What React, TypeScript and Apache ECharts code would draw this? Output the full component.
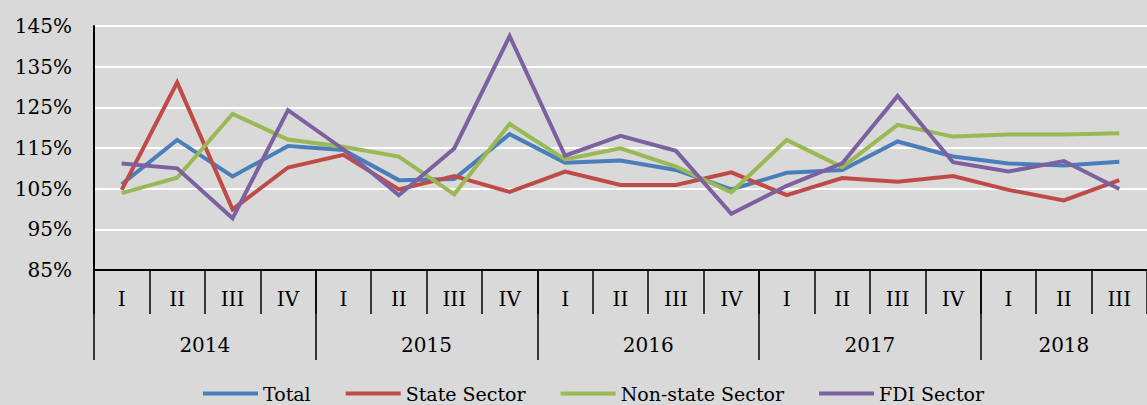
import React, { useEffect, useRef } from "react";
import * as echarts from "echarts";

const quarters = ["I", "II", "III", "IV", "I", "II", "III", "IV", "I", "II", "III", "IV", "I", "II", "III", "IV", "I", "II", "III"];
const years = ["2014", "2015", "2016", "2017", "2018"];
const yearQuarterCounts = [4, 4, 4, 4, 3];
const yTicks = [85, 95, 105, 115, 125, 135, 145];

const total = [106.1, 117.0, 108.0, 115.5, 114.5, 107.1, 107.4, 118.4, 111.4, 111.9, 109.6, 104.8, 108.9, 109.6, 116.6, 112.9, 111.2, 110.7, 111.6];
const stateSector = [104.7, 131.1, 99.9, 110.2, 113.3, 104.8, 108.1, 104.2, 109.2, 105.9, 105.9, 109.0, 103.4, 107.6, 106.7, 108.1, 104.7, 102.1, 107.1];
const nonStateSector = [103.9, 107.7, 123.4, 117.1, 115.3, 112.9, 103.6, 120.9, 112.2, 114.9, 110.4, 104.1, 117.0, 110.3, 120.7, 117.8, 118.3, 118.3, 118.6];
const fdiSector = [111.2, 110.0, 97.7, 124.3, 114.7, 103.4, 114.9, 142.5, 113.1, 118.0, 114.3, 98.8, 105.7, 111.2, 127.8, 111.5, 109.2, 111.8, 104.9];

const FONT = "DejaVu Serif";

export default function App() {
  const ref = useRef<HTMLDivElement>(null);
  useEffect(() => {
    if (!ref.current) return;
    const chart = echarts.init(ref.current, null, { renderer: "svg" });

    const yearStarts: number[] = [];
    const yearMids: number[] = [];
    let acc = 0;
    yearQuarterCounts.forEach((c) => {
      yearStarts.push(acc);
      yearMids.push(acc + c / 2);
      acc += c;
    });

    const mk = (name: string, data: number[], color: string) => ({
      name,
      type: "line",
      data,
      xAxisIndex: 0,
      yAxisIndex: 0,
      symbol: "none",
      lineStyle: { width: 4, color, join: "miter" },
      itemStyle: { color },
    });

    chart.setOption({
      animation: false,
      backgroundColor: "#d9d9d9",
      textStyle: { fontFamily: FONT },
      grid: { left: 94, top: 26, width: 1062, height: 244 },
      legend: {
        left: 198,
        top: 379,
        icon: "rect",
        itemWidth: 55,
        itemHeight: 4,
        itemGap: 35,
        textStyle: { fontFamily: FONT, fontSize: 19, color: "#000" },
        data: ["Total", "State Sector", "Non-state Sector", "FDI Sector"],
      },
      xAxis: [
        {
          type: "category",
          data: quarters,
          boundaryGap: true,
          axisLine: { show: true, lineStyle: { color: "#000", width: 2 } },
          axisTick: { show: true, interval: 0, length: 44, lineStyle: { color: "#000", width: 1.5 } },
          axisLabel: { interval: 0, margin: 19, fontSize: 20, color: "#000", fontFamily: FONT },
          splitLine: { show: false },
        },
        {
          type: "value",
          min: 0,
          max: quarters.length,
          position: "bottom",
          axisLine: { show: false },
          axisTick: { show: true, customValues: yearStarts, length: 90, lineStyle: { color: "#000", width: 1.5 } },
          axisLabel: {
            customValues: yearMids,
            margin: 65,
            fontSize: 20,
            color: "#000",
            fontFamily: FONT,
            formatter: (v: number) => {
              const i = yearMids.indexOf(v);
              return i >= 0 ? years[i] : "";
            },
          },
          splitLine: { show: false },
        },
      ],
      yAxis: {
        type: "value",
        min: 85,
        max: 145,
        axisLine: { show: true, lineStyle: { color: "#000", width: 2 } },
        axisTick: { show: false, customValues: yTicks },
        axisLabel: {
          customValues: yTicks,
          margin: 22,
          fontSize: 20,
          color: "#000",
          fontFamily: FONT,
          formatter: (v: number) => v + "%",
        },
        splitLine: { show: true, lineStyle: { color: "#ffffff", width: 2 } },
      },
      series: [
        mk("Total", total, "#4a7ebb"),
        mk("State Sector", stateSector, "#be4b48"),
        mk("Non-state Sector", nonStateSector, "#98b954"),
        mk("FDI Sector", fdiSector, "#7d60a0"),
      ],
    });
    return () => chart.dispose();
  }, []);
  return (
    <div
      ref={ref}
      style={{ position: "absolute", left: 0, top: 0, width: 1147, height: 405, background: "#d9d9d9" }}
    />
  );
}
